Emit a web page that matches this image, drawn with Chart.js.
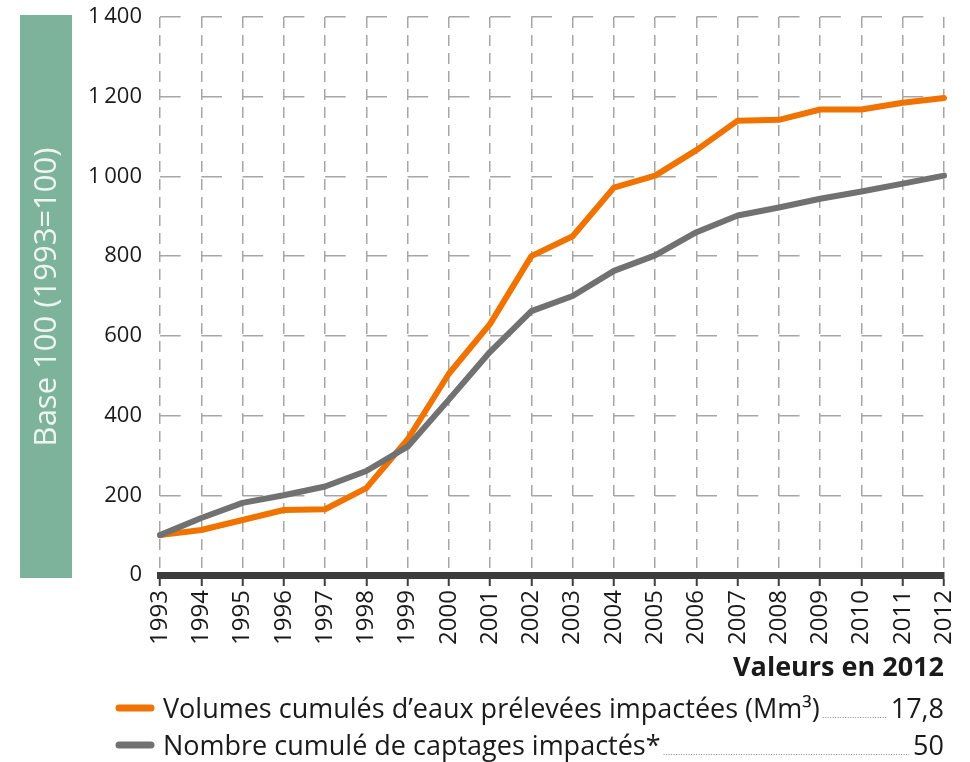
<!DOCTYPE html>
<html>
<head>
<meta charset="utf-8">
<script src="https://cdn.jsdelivr.net/npm/chart.js@4"></script>
<style>
  html, body { margin: 0; padding: 0; background: #fff; }
  #wrap { width: 970px; height: 762px; position: relative; }
</style>
</head>
<body>
<div id="wrap"><canvas id="chart" width="970" height="762"></canvas></div>
<script>
// années
const years = ["1993","1994","1995","1996","1997","1998","1999","2000","2001","2002",
               "2003","2004","2005","2006","2007","2008","2009","2010","2011","2012"];
// volumes cumulés d'eaux prélevées impactées (base 100)
const volumes = [100, 113, 138, 163, 165, 218, 340, 505, 630, 800,
                 850, 972, 1002, 1066, 1140, 1142, 1168, 1168, 1185, 1197];
// nombre cumulé de captages impactés (base 100)
const captages = [100, 143, 181, 200, 222, 261, 322, 440, 560, 662,
                  700, 763, 802, 860, 902, 922, 944, 962, 982, 1002];
const yTicks = [0, 200, 400, 600, 800, 1000, 1200, 1400];

const legendRows = [
  { label: "Volumes cumulés d’eaux prélevées impactées (Mm³)", value: "17,8", color: "#f07300" },
  { label: "Nombre cumulé de captages impactés*", value: "50", color: "#717171" }
];

const FONT = "'Open Sans'";

// bandeau vert + bloc "Valeurs en 2012"
const decor = {
  id: "decor",
  beforeDraw(chart) {
    const ctx = chart.ctx;
    ctx.save();
    ctx.fillStyle = "#7db39b";
    ctx.fillRect(20, 15, 52, 563);
    ctx.translate(47, 297);
    ctx.rotate(-Math.PI / 2);
    ctx.fillStyle = "#eef5f1";
    ctx.font = "31px " + FONT;
    ctx.textAlign = "center";
    ctx.textBaseline = "middle";
    ctx.fillText("Base 100 (1993=100)", 0, 0);
    ctx.restore();
  },
  afterDraw(chart) {
    const ctx = chart.ctx;
    const right = chart.chartArea.right;
    ctx.save();
    ctx.fillStyle = "#1a1a1a";
    ctx.font = "bold 27px " + FONT;
    ctx.textAlign = "right";
    ctx.textBaseline = "alphabetic";
    ctx.fillText("Valeurs en 2012", right, 676);

    legendRows.forEach((r, i) => {
      const y = 708 + i * 37;
      ctx.strokeStyle = r.color;
      ctx.lineWidth = 7;
      ctx.lineCap = "round";
      ctx.beginPath();
      ctx.moveTo(119, y);
      ctx.lineTo(151, y);
      ctx.stroke();

      ctx.font = "27px " + FONT;
      ctx.fillStyle = "#1a1a1a";
      ctx.textAlign = "left";
      ctx.fillText(r.label, 163, y + 10);
      const lw = ctx.measureText(r.label).width;
      ctx.textAlign = "right";
      ctx.fillText(r.value, right, y + 10);
      const vw = ctx.measureText(r.value).width;

      ctx.strokeStyle = "#8a8a8a";
      ctx.lineWidth = 1;
      ctx.lineCap = "butt";
      ctx.setLineDash([1, 1.5]);
      ctx.beginPath();
      ctx.moveTo(163 + lw + 3, y + 9.5);
      ctx.lineTo(right - vw - 4, y + 9.5);
      ctx.stroke();
      ctx.setLineDash([]);
    });
    ctx.restore();
  }
};

new Chart(document.getElementById("chart"), {
  type: "line",
  data: {
    labels: years,
    datasets: [
      { label: "Captages", data: captages, borderColor: "#717171", borderWidth: 6,
        pointRadius: 0, tension: 0, borderJoinStyle: "round", borderCapStyle: "round" },
      { label: "Volumes", data: volumes, borderColor: "#f07300", borderWidth: 6,
        pointRadius: 0, tension: 0, borderJoinStyle: "round", borderCapStyle: "round" }
    ]
  },
  options: {
    responsive: false,
    animation: false,
    layout: { padding: { top: 17, right: 26, bottom: 107, left: 0 } },
    plugins: { legend: { display: false }, tooltip: { enabled: false } },
    scales: {
      x: {
        offset: false,
        afterFit: s => { s.height = 80; s.paddingTop = 0; s.paddingLeft = 0; s.paddingRight = 0; },
        border: { display: true, color: "#3c3c3c", width: 7, z: 1, dash: [11, 7] },
        grid: {
          color: "#a6a6a6", lineWidth: 1.5, drawOnChartArea: true,
          tickLength: 11, tickColor: "#3c3c3c", tickWidth: 2, tickBorderDash: []
        },
        ticks: {
          minRotation: 90, maxRotation: 90, autoSkip: false, padding: 4,
          color: "#1a1a1a", font: { family: FONT, size: 24 }
        }
      },
      y: {
        min: 0, max: 1400,
        afterFit: s => { s.width = 160; s.paddingTop = 0; s.paddingBottom = 0; },
        afterBuildTicks: s => { s.ticks = yTicks.map(v => ({ value: v })); },
        border: { display: false, dash: [20.63, 20.63] },
        grid: { color: "#a6a6a6", lineWidth: 1.5, drawTicks: false },
        ticks: {
          padding: 18, color: "#1a1a1a", font: { family: FONT, size: 22 },
          callback: v => String(v).replace(/\B(?=(\d{3})+(?!\d))/g, "\u2009")
        }
      }
    }
  },
  plugins: [decor]
});
</script>
</body>
</html>
